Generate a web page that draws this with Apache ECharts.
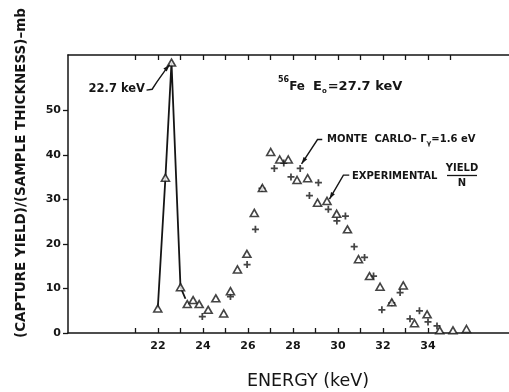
<!DOCTYPE html>
<html><head><meta charset="utf-8">
<script src="https://cdn.jsdelivr.net/npm/echarts@6/dist/echarts.min.js"></script>
<style>html,body{margin:0;padding:0;background:#fff}#c{width:509px;height:392px}</style>
</head><body><div id="c"></div>
<script>
// ---- data ----
const expX = [21.99,22.33,22.6,23.0,23.3,23.56,23.83,24.23,24.57,24.92,25.22,25.53,25.95,26.28,26.64,27.01,27.41,27.79,28.18,28.65,29.09,29.51,29.94,30.42,30.91,31.4,31.87,32.39,32.9,33.4,33.96,34.52,35.11,35.71];
const expY = [5.5,34.9,60.8,10.3,6.5,7.4,6.5,5.2,7.8,4.4,9.4,14.3,17.8,27.0,32.6,40.7,39.0,39.0,34.4,34.8,29.3,29.7,26.8,23.3,16.6,12.8,10.4,6.9,10.7,2.2,4.2,0.6,0.6,0.9];
const mcX = [23.97,25.22,25.96,26.33,26.62,27.17,27.59,27.91,28.32,28.73,29.13,29.57,29.95,30.33,30.72,31.18,31.58,31.95,32.39,32.76,33.2,33.62,34.0,34.4];
const mcY = [3.7,8.2,15.4,23.3,32.5,37.0,38.2,35.1,37.0,30.9,33.8,27.8,25.2,26.3,19.4,17.0,12.8,5.2,6.8,9.1,3.2,5.0,2.5,1.6];
const peakLineX = [21.99,22.33,22.6,23.0,23.22];
const peakLineY = [5.5,34.9,60.8,10.3,7.7];
const xTickValues = [21,22,23,24,25,26,27,28,29,30,31,32,33,34];
const xTopTickValues = [21,22,23,24,25,26,27,28,29,30,31,32,33,34,35];
const xLabelValues = [22,24,26,28,30,32,34];
const yTickValues = [0,10,20,30,40,50];
// annotation leaders (data coordinates)
const peakLeader = [[21.49,54.6],[21.74,54.8],[21.96,56.5],[22.38,59.5],[22.52,60.3]];
const mcLeader = [[29.3,43.5],[29.09,43.5],[28.38,38.0]];
const expLeader = [[30.5,35.5],[30.24,35.5],[29.62,30.1]];

const F = 'DejaVu Sans';
const INK = '#151515';
const chart = echarts.init(document.getElementById('c'), null, {renderer:'canvas'});
const pair = (xs, ys) => xs.map((x, i) => [x, ys[i]]);
const lbl = {color:INK,fontFamily:F,fontWeight:'bold',fontSize:11};

chart.setOption({
  animation:false,
  backgroundColor:'#fff',
  grid:{left:68,right:0,top:55,bottom:59},
  xAxis:[
    {type:'value',position:'bottom',min:18,max:37.6,interval:1,
     axisLine:{show:true,onZero:false,lineStyle:{color:INK,width:1.5}},
     axisTick:{show:true,inside:true,length:5,customValues:xTickValues,lineStyle:{color:INK,width:1.3}},
     axisLabel:Object.assign({customValues:xLabelValues,margin:8},lbl),
     splitLine:{show:false}},
    {type:'value',position:'top',min:18,max:37.6,interval:1,
     axisLine:{show:true,onZero:false,lineStyle:{color:INK,width:1.5}},
     axisTick:{show:true,inside:true,length:5,customValues:xTopTickValues,lineStyle:{color:INK,width:1.3}},
     axisLabel:{show:false},splitLine:{show:false}}
  ],
  yAxis:{type:'value',min:0,max:62.5,interval:10,
     axisLine:{show:true,onZero:false,lineStyle:{color:INK,width:1.5}},
     axisTick:{show:true,inside:false,length:5,customValues:yTickValues,lineStyle:{color:INK,width:1.3}},
     axisLabel:Object.assign({customValues:yTickValues,margin:7},lbl),
     splitLine:{show:false}},
  series:[
    {type:'line',data:pair(peakLineX,peakLineY),symbol:'none',
     lineStyle:{color:INK,width:1.8},z:2},
    {type:'scatter',data:pair(expX,expY),symbol:'triangle',symbolSize:[8,7],
     itemStyle:{color:'#fff',borderColor:INK,borderWidth:1.6},z:4},
    {type:'scatter',data:pair(mcX,mcY),symbol:'path://M3,0h2v3h3v2h-3v3h-2v-3h-3v-2h3z',symbolSize:7,
     itemStyle:{color:INK},z:3}
  ]
});

function px(p){ return chart.convertToPixel({xAxisIndex:0,yAxisIndex:0}, p); }
function leader(pts){
  const P = pts.map(px), n = P.length;
  const [x2,y2] = P[n-1], [x1,y1] = P[n-2];
  const dx = x2-x1, dy = y2-y1, L = Math.hypot(dx,dy), ux = dx/L, uy = dy/L;
  const al = 7, aw = 2.2, bx = x2-ux*al, by = y2-uy*al;
  return [
    {type:'polyline',shape:{points:P},style:{stroke:INK,lineWidth:1.4,fill:null},z:5},
    {type:'polygon',shape:{points:[[x2,y2],[bx-uy*aw,by+ux*aw],[bx+uy*aw,by-ux*aw]]},style:{fill:INK},z:5}
  ];
}
function txt(x, y, s, size, opts){
  opts = opts || {};
  return {type:'text',x:x,y:y,rotation:opts.rot||0,z:6,
    style:Object.assign({text:s,fill:INK,fontFamily:F,fontSize:size,fontWeight:opts.w||'bold',
      align:opts.a||'left',verticalAlign:'middle',textAlign:opts.a||'left',textVerticalAlign:'middle'}, opts.extra||{})};
}
const g = [];
g.push(...leader(peakLeader), ...leader(mcLeader), ...leader(expLeader));
g.push(txt(145,89.5,'22.7 keV',11.5,{a:'right'}));
g.push(txt(278,83,'{s|56}{m|Fe}',12,{extra:{rich:{
  s:{fontSize:8,fontWeight:'bold',fontFamily:F,fill:INK,verticalAlign:'top',lineHeight:14},
  m:{fontSize:12,fontWeight:'bold',fontFamily:F,fill:INK,lineHeight:14,padding:[8,0,0,0]}}}}));
g.push(txt(313,87,'{m|E}{s|o}{m|=27.7 keV}',13,{extra:{rich:{
  m:{fontSize:13,fontWeight:'bold',fontFamily:F,fill:INK,lineHeight:16},
  s:{fontSize:7,fontWeight:'bold',fontFamily:F,fill:INK,lineHeight:16,padding:[9,1,0,0]}}}}));
g.push(txt(327,139.5,'{m|MONTE  CARLO– Γ}{s|γ}{m|=1.6 eV}',10,{extra:{rich:{
  m:{fontSize:10,fontWeight:'bold',fontFamily:F,fill:INK,lineHeight:14},
  s:{fontSize:7,fontWeight:'bold',fontFamily:F,fill:INK,lineHeight:14,padding:[7,0,0,0]}}}}));
g.push(txt(352,176.5,'EXPERIMENTAL',10));
g.push(txt(462,168.5,'YIELD',10,{a:'center'}));
g.push({type:'line',shape:{x1:447,y1:175.5,x2:477,y2:175.5},style:{stroke:INK,lineWidth:1.3},z:6});
g.push(txt(462,183.5,'N',10,{a:'center'}));
g.push(txt(21,173,'(CAPTURE YIELD)/(SAMPLE THICKNESS)–mb',13.5,{a:'center',rot:Math.PI/2}));
g.push(txt(308,381,'ENERGY (keV)',17.5,{a:'center',w:'normal'}));
chart.setOption({graphic:g});
</script>
</body></html>
